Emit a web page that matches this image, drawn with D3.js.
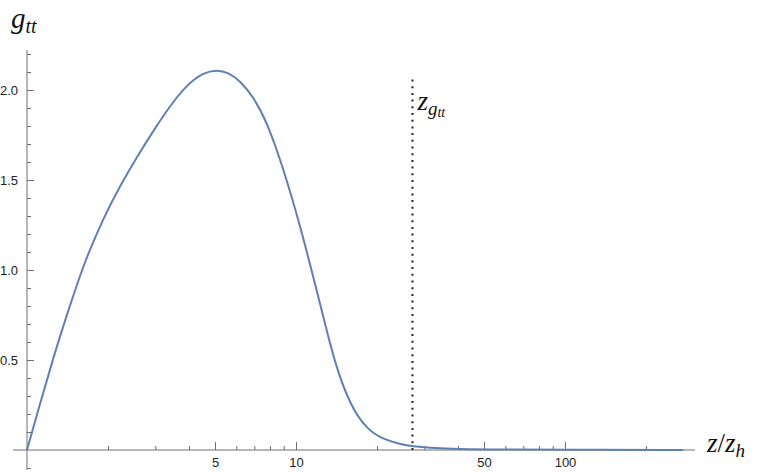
<!DOCTYPE html>
<html>
<head>
<meta charset="utf-8">
<script src="https://cdn.jsdelivr.net/npm/d3@7"></script>
<style>
  body { margin: 0; background: #fff; }
  svg { display: block; }
  .tick text { font-family: "Liberation Sans", Arial, sans-serif; font-size: 13px; fill: #222; }
  .math { font-family: "Liberation Serif", "Times New Roman", serif; font-style: italic; fill: #111; }
</style>
</head>
<body>
<div id="chart"></div>
<script>
// curve g_tt(z/z_h) (log x axis)
var zVals = [1, 1.118, 1.252, 1.405, 1.574, 1.667, 1.921, 2.217, 2.557, 2.949, 3.401, 3.924, 4.524, 5.07, 5.6, 6.19, 6.93, 7.78, 8.96, 10.38, 11.96, 13.03, 14.17, 15.93, 18.29, 21.09, 24.34, 27.3, 31.5, 37.3, 50, 100, 275]
var gVals = [0, 0.257, 0.512, 0.75, 0.968, 1.07, 1.287, 1.468, 1.626, 1.773, 1.912, 2.028, 2.097, 2.112, 2.098, 2.052, 1.963, 1.827, 1.568, 1.243, 0.882, 0.659, 0.451, 0.248, 0.116, 0.059, 0.033, 0.02, 0.012, 0.007, 0.003, 0.001, 0]

// marker z_{g_tt}
var zMarker = 27.1
var markerTop = 2.08

// axes
var xMajor = [5, 10, 50, 100]
var xMinor = [2, 3, 4, 6, 7, 8, 9, 20, 30, 40, 60, 70, 80, 90, 200]
var yMajor = [0.5, 1.0, 1.5, 2.0]
var yMinor = [-0.1, 0.1, 0.2, 0.3, 0.4, 0.6, 0.7, 0.8, 0.9, 1.1, 1.2, 1.3, 1.4, 1.6, 1.7, 1.8, 1.9, 2.1, 2.2]
var xExtent = [0.887, 304]
var yExtent = [-0.111, 2.222]

var width = 768, height = 472

var svg = d3.select('#chart').append('svg')
    .attr('width', width)
    .attr('height', height)

var x = d3.scaleLog().domain([1, 100]).range([27, 565])
var y = d3.scaleLinear().domain([0, 2]).range([450, 90])

var axisColor = '#6e6e6e'

// x axis line + ticks
svg.append('line')
    .attr('x1', x(xExtent[0])).attr('x2', x(xExtent[1]))
    .attr('y1', y(0)).attr('y2', y(0))
    .attr('stroke', axisColor).attr('stroke-width', 1)

var gxMinor = svg.append('g')
    .attr('transform', 'translate(0,' + y(0) + ')')
    .call(d3.axisBottom(x).tickValues(xMinor).tickSize(-4).tickFormat(''))
var gxMajor = svg.append('g')
    .attr('transform', 'translate(0,' + y(0) + ')')
    .call(d3.axisBottom(x).tickValues(xMajor).tickSize(-8).tickPadding(9).tickFormat(d3.format('d')))

// y axis line + ticks
svg.append('line')
    .attr('x1', x(1)).attr('x2', x(1))
    .attr('y1', y(yExtent[0])).attr('y2', y(yExtent[1]))
    .attr('stroke', axisColor).attr('stroke-width', 1)

var gyMinor = svg.append('g')
    .attr('transform', 'translate(' + x(1) + ',0)')
    .call(d3.axisLeft(y).tickValues(yMinor).tickSize(-4).tickFormat(''))
var gyMajor = svg.append('g')
    .attr('transform', 'translate(' + x(1) + ',0)')
    .call(d3.axisLeft(y).tickValues(yMajor).tickSize(-7).tickPadding(9).tickFormat(d3.format('.1f')))

svg.selectAll('.domain').remove()
svg.selectAll('.tick line').attr('stroke', axisColor)
gxMajor.selectAll('.tick text').attr('dy', '0.71em').attr('y', 8)

// dotted marker
svg.append('line')
    .attr('x1', x(zMarker)).attr('x2', x(zMarker))
    .attr('y1', y(0)).attr('y2', y(markerTop))
    .attr('stroke', '#222')
    .attr('stroke-width', 2)
    .attr('stroke-dasharray', '2,4.7')

// curve
var pts = zVals.map(function (z, i) { return [z, gVals[i]] })
var line = d3.line()
    .x(function (d) { return x(d[0]) })
    .y(function (d) { return y(d[1]) })
    .curve(d3.curveBasis)

svg.append('path')
    .datum(pts)
    .attr('d', line)
    .attr('fill', 'none')
    .attr('stroke', 'rgb(94,129,181)')
    .attr('stroke-width', 2)

// labels
var yl = svg.append('text').attr('class', 'math').attr('x', 11).attr('y', 28).style('font-size', '29px')
yl.append('tspan').text('g')
yl.append('tspan').attr('dy', 5).style('font-size', '20px').text('tt')

var ml = svg.append('text').attr('class', 'math').attr('x', x(zMarker) + 5).attr('y', 110).style('font-size', '27px')
ml.append('tspan').text('z')
ml.append('tspan').attr('dy', 5).style('font-size', '19px').text('g')
ml.append('tspan').attr('dy', 2).style('font-size', '14px').text('tt')

var xl = svg.append('text').attr('class', 'math').attr('x', 707).attr('y', 452).style('font-size', '27px')
xl.append('tspan').text('z')
xl.append('tspan').style('font-style', 'normal').text('/')
xl.append('tspan').text('z')
xl.append('tspan').attr('dy', 5).style('font-size', '19px').text('h')
</script>
</body>
</html>
